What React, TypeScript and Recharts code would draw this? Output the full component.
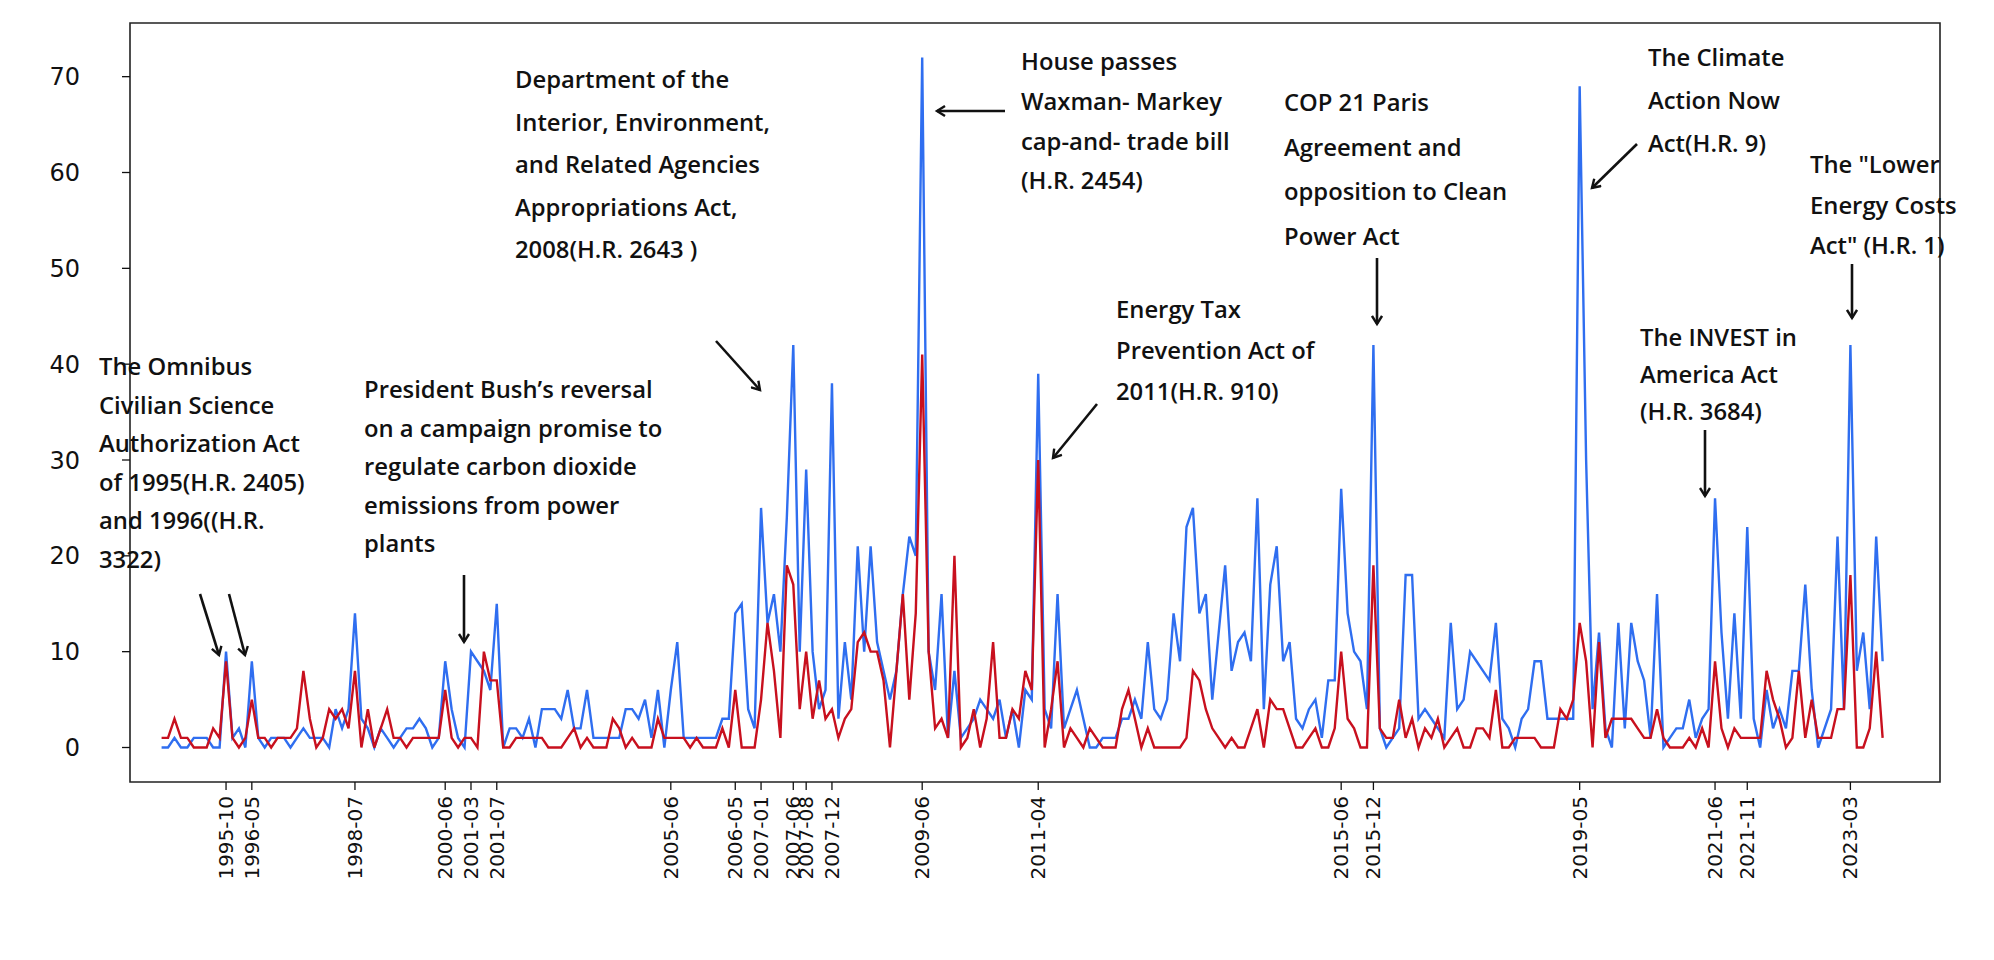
import React from 'react';
import { LineChart, Line, XAxis, YAxis, ReferenceArea } from 'recharts';

// monthly counts, one entry per plotted month (categorical positions)
const blueCounts = [
  0, 0, 1, 0, 0, 1, 1, 1, 0, 0,
  10, 1, 2, 0, 9, 1, 0, 1, 1, 1,
  0, 1, 2, 1, 1, 1, 0, 4, 2, 4,
  14, 3, 2, 0, 2, 1, 0, 1, 2, 2,
  3, 2, 0, 1, 9, 4, 1, 0, 10, 9,
  8, 6, 15, 0, 2, 2, 1, 3, 0, 4,
  4, 4, 3, 6, 2, 2, 6, 1, 1, 1,
  1, 1, 4, 4, 3, 5, 1, 6, 0, 6,
  11, 1, 1, 1, 1, 1, 1, 3, 3, 14,
  15, 4, 2, 25, 13, 16, 10, 24, 42, 10,
  29, 10, 4, 6, 38, 3, 11, 5, 21, 10,
  21, 11, 8, 5, 8, 16, 22, 20, 72, 10,
  6, 16, 1, 8, 1, 2, 3, 5, 4, 3,
  5, 1, 4, 0, 6, 5, 39, 4, 2, 16,
  2, 4, 6, 3, 0, 0, 1, 1, 1, 3,
  3, 5, 3, 11, 4, 3, 5, 14, 9, 23,
  25, 14, 16, 5, 12, 19, 8, 11, 12, 9,
  26, 4, 17, 21, 9, 11, 3, 2, 4, 5,
  1, 7, 7, 27, 14, 10, 9, 4, 42, 2,
  0, 1, 2, 18, 18, 3, 4, 3, 2, 1,
  13, 4, 5, 10, 9, 8, 7, 13, 3, 2,
  0, 3, 4, 9, 9, 3, 3, 3, 3, 3,
  69, 30, 4, 12, 2, 0, 13, 2, 13, 9,
  7, 1, 16, 0, 1, 2, 2, 5, 1, 3,
  4, 26, 12, 3, 14, 3, 23, 3, 0, 6,
  2, 4, 2, 8, 8, 17, 6, 0, 2, 4,
  22, 4, 42, 8, 12, 4, 22, 9,
];

const redCounts = [
  1, 1, 3, 1, 1, 0, 0, 0, 2, 1,
  9, 1, 0, 1, 5, 1, 1, 0, 1, 1,
  1, 2, 8, 3, 0, 1, 4, 3, 4, 2,
  8, 0, 4, 0, 2, 4, 1, 1, 0, 1,
  1, 1, 1, 1, 6, 1, 0, 1, 1, 0,
  10, 7, 7, 0, 0, 1, 1, 1, 1, 1,
  0, 0, 0, 1, 2, 0, 1, 0, 0, 0,
  3, 2, 0, 1, 0, 0, 0, 3, 1, 1,
  1, 1, 0, 1, 0, 0, 0, 2, 0, 6,
  0, 0, 0, 5, 13, 8, 1, 19, 17, 4,
  10, 3, 7, 3, 4, 1, 3, 4, 11, 12,
  10, 10, 7, 0, 8, 16, 5, 14, 41, 10,
  2, 3, 1, 20, 0, 1, 4, 0, 3, 11,
  1, 1, 4, 3, 8, 6, 30, 0, 4, 9,
  0, 2, 1, 0, 2, 1, 0, 0, 0, 4,
  6, 3, 0, 2, 0, 0, 0, 0, 0, 1,
  8, 7, 4, 2, 1, 0, 1, 0, 0, 2,
  4, 0, 5, 4, 4, 2, 0, 0, 1, 2,
  0, 0, 2, 10, 3, 2, 0, 0, 19, 2,
  1, 1, 5, 1, 3, 0, 2, 1, 3, 0,
  1, 2, 0, 0, 2, 2, 1, 6, 0, 0,
  1, 1, 1, 1, 0, 0, 0, 4, 3, 5,
  13, 9, 0, 11, 1, 3, 3, 3, 3, 2,
  1, 1, 4, 1, 0, 0, 0, 1, 0, 2,
  0, 9, 2, 0, 2, 1, 1, 1, 1, 8,
  5, 3, 0, 1, 8, 1, 5, 1, 1, 1,
  4, 4, 18, 0, 0, 2, 10, 1,
];

// positions (point index) of the labelled months
const tickIndex = [10, 14, 30, 44, 48, 52, 79, 89, 93, 98, 100, 104, 118, 136, 183, 188, 220, 241, 246, 262];
const tickLabels = [
  '1995-10', '1996-05', '1998-07', '2000-06', '2001-03', '2001-07', '2005-06', '2006-05',
  '2007-01', '2007-06', '2007-08', '2007-12', '2009-06', '2011-04', '2015-06', '2015-12',
  '2019-05', '2021-06', '2021-11', '2023-03',
];
const yTicks = [0, 10, 20, 30, 40, 50, 60, 70];

const X_MIN = -4.9;
const X_MAX = 275.9;
const Y_MIN = -3.6;
const Y_MAX = 75.6;

const data = blueCounts.map((b, i) => ({ idx: i, blue: b, red: redCounts[i] }));

const labelFor = (v: number) => {
  const k = tickIndex.indexOf(v);
  return k >= 0 ? tickLabels[k] : '';
};

const XTick = (props: any) => {
  const { x, y, payload } = props;
  return (
    <text
      x={x}
      y={y}
      transform={`rotate(-90, ${x}, ${y})`}
      textAnchor="end"
      dominantBaseline="central"
      fontFamily="DejaVu Sans"
      fontSize={20}
      fill="#111"
    >
      {labelFor(payload.value)}
    </text>
  );
};

// annotation blocks (pixel layout of the overlay)
const notes = [
  { x: 99, y: 366, gap: 38.6, lines: ['The Omnibus', 'Civilian Science', 'Authorization Act', 'of 1995(H.R. 2405)', 'and 1996((H.R.', '3322)'] },
  { x: 364, y: 389, gap: 38.6, lines: ['President Bush\u2019s reversal', 'on a campaign promise to', 'regulate carbon dioxide', 'emissions from power', 'plants'] },
  { x: 515, y: 79, gap: 42.5, lines: ['Department of the', 'Interior, Environment,', 'and Related Agencies', 'Appropriations Act,', '2008(H.R. 2643 )'] },
  { x: 1021, y: 61, gap: 39.8, lines: ['House passes', 'Waxman- Markey', 'cap-and- trade bill', '(H.R. 2454)'] },
  { x: 1116, y: 309, gap: 41, lines: ['Energy Tax', 'Prevention Act of', '2011(H.R. 910)'] },
  { x: 1284, y: 102, gap: 44.5, lines: ['COP 21 Paris', 'Agreement and', 'opposition to Clean', 'Power Act'] },
  { x: 1648, y: 57, gap: 43, lines: ['The Climate', 'Action Now', 'Act(H.R. 9)'] },
  { x: 1810, y: 164, gap: 40.7, lines: ['The "Lower', 'Energy Costs', 'Act" (H.R. 1)'] },
  { x: 1640, y: 337, gap: 37, lines: ['The INVEST in', 'America Act', '(H.R. 3684)'] },
];

const arrows = [
  { x1: 200, y1: 594, x2: 219, y2: 655 },
  { x1: 229, y1: 594, x2: 245, y2: 655 },
  { x1: 464, y1: 575, x2: 464, y2: 642 },
  { x1: 716, y1: 341, x2: 760, y2: 390 },
  { x1: 1005, y1: 111, x2: 937, y2: 111 },
  { x1: 1097, y1: 404, x2: 1053, y2: 458 },
  { x1: 1377, y1: 258, x2: 1377, y2: 324 },
  { x1: 1637, y1: 144, x2: 1592, y2: 188 },
  { x1: 1852, y1: 264, x2: 1852, y2: 318 },
  { x1: 1705, y1: 430, x2: 1705, y2: 496 },
];

const Annotations = () => (
  <svg width={1994} height={960} style={{ position: 'absolute', left: 0, top: 0, pointerEvents: 'none' }}>
    <defs>
      <marker id="head" markerWidth="12" markerHeight="12" refX="9" refY="6" orient="auto" markerUnits="userSpaceOnUse">
        <path d="M1,1 L9,6 L1,11" fill="none" stroke="#111" strokeWidth={2.4} />
      </marker>
    </defs>
    {arrows.map((a, i) => (
      <line key={`a-${i}`} x1={a.x1} y1={a.y1} x2={a.x2} y2={a.y2} stroke="#111" strokeWidth={2.6} markerEnd="url(#head)" />
    ))}
    {notes.map((n, i) => (
      <g key={`n-${i}`}>
        {n.lines.map((t, j) => (
          <text
            key={j}
            x={n.x}
            y={n.y + j * n.gap}
            dominantBaseline="central"
            fontFamily="Open Sans"
            fontWeight={600}
            fontSize={23.8}
            fill="#111"
          >
            {t}
          </text>
        ))}
      </g>
    ))}
  </svg>
);

export default function App() {
  return (
    <div style={{ position: 'absolute', left: 0, top: 0, width: 1994, height: 960, background: '#fff' }}>
      <LineChart width={1994} height={960} data={data} margin={{ top: 23, right: 54, bottom: 0, left: 0 }}>
        <XAxis
          dataKey="idx"
          type="number"
          domain={[X_MIN, X_MAX]}
          ticks={tickIndex}
          interval={0}
          height={178}
          axisLine={false}
          tickLine={{ stroke: '#111', strokeWidth: 1.3 }}
          tickSize={8}
          tickMargin={6}
          tick={<XTick />}
        />
        <YAxis
          type="number"
          domain={[Y_MIN, Y_MAX]}
          ticks={yTicks}
          width={130}
          axisLine={false}
          tickLine={{ stroke: '#111', strokeWidth: 1.3 }}
          tickSize={8}
          tickMargin={42}
          tick={{ fontFamily: 'DejaVu Sans', fontSize: 24, fill: '#111' }}
        />
        <Line dataKey="blue" type="linear" stroke="#2f6ef0" strokeWidth={2.4} dot={false} isAnimationActive={false} />
        <Line dataKey="red" type="linear" stroke="#c8101e" strokeWidth={2.4} dot={false} isAnimationActive={false} />
        <ReferenceArea x1={X_MIN} x2={X_MAX} y1={Y_MIN} y2={Y_MAX} fill="none" stroke="#222" strokeWidth={1.6} ifOverflow="visible" />
      </LineChart>
      <Annotations />
    </div>
  );
}
